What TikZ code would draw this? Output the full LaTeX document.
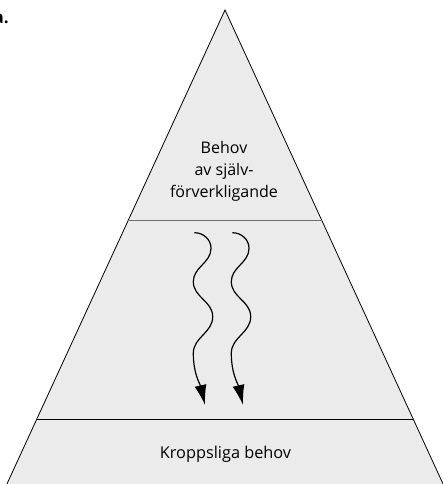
\documentclass[tikz,border=0pt]{standalone}
\usepackage{fontspec}
\setmainfont{Open Sans}
\usetikzlibrary{arrows.meta,calc}
\definecolor{pyrfill}{HTML}{EBEBEB}
\definecolor{midline}{HTML}{6E6E6E}
\begin{document}
\begin{tikzpicture}[x=1pt,y=1pt,
  edge/.style={draw=black,line width=0.8pt},
  wave/.style={line width=1.2pt,-{Latex[length=20pt,width=12pt]}},
  toplbl/.style={font=\fontsize{16}{22}\selectfont,align=center,inner sep=0pt},
  botlbl/.style={font=\fontsize{16.3}{21}\selectfont,inner sep=0pt},
]
\useasboundingbox (0,0) rectangle (442,484);
\coordinate (A) at (225,474);
\coordinate (BL) at (6,-2);
\coordinate (BR) at (444,-2);
\fill[pyrfill] (A) -- (BL) -- (BR) -- cycle;
\draw[edge] (BL) -- (A) -- (BR);
\coordinate (L1a) at ($(A)!0.4426!(BL)$);
\coordinate (L1b) at ($(A)!0.4426!(BR)$);
\coordinate (L2a) at ($(A)!0.8597!(BL)$);
\coordinate (L2b) at ($(A)!0.8597!(BR)$);
\draw[midline,line width=1.6pt] (L1a) -- (L1b);
\draw[black,line width=0.8pt] (L2a) -- (L2b);

\node[toplbl] (top) at (224,313) {Behov\\av själv-\\förverkligande};
\node[botlbl,anchor=base] (bot) at (225.5,25) {Kroppsliga behov};
\node[font=\fontsize{17}{20}\selectfont\bfseries,anchor=base east,inner sep=0pt] (lab) at (9,460) {a.};

\foreach \dx/\n in {0/p,38/q}{
  \coordinate (\n0) at (194.3+\dx,251.3);
  \coordinate (\n1) at (211+\dx,235.7);
  \coordinate (\n2) at (193.3+\dx,202.3);
  \coordinate (\n3) at (212.7+\dx,167.3);
  \coordinate (\n4) at (193.3+\dx,130.7);
  \coordinate (\n5) at (205+\dx,79);
  \draw[wave] (\n0) to[out=0,in=90] (\n1) to[out=-90,in=90] (\n2)
    to[out=-90,in=90] (\n3) to[out=-90,in=90] (\n4) to[out=-90,in=103] (\n5);
}
\end{tikzpicture}
\end{document}
